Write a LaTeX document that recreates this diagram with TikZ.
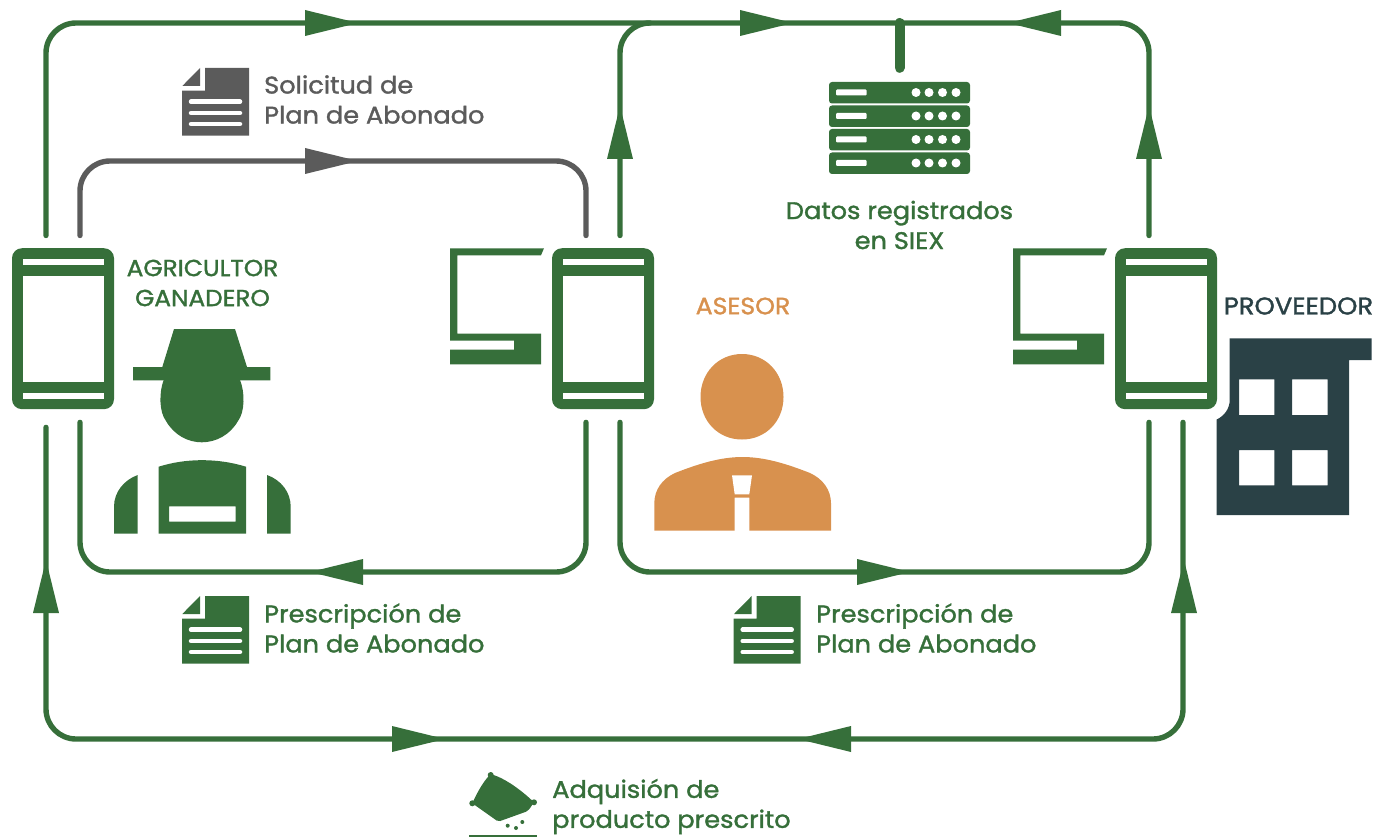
\documentclass[tikz,border=0pt]{standalone}
\usepackage{fontspec}
\setmainfont{Poppins}[FakeBold=1.4,FakeStretch=1.068]
\usetikzlibrary{arrows.meta}
\definecolor{leaf}{HTML}{366F3A}
\definecolor{slate}{HTML}{5B5B5B}
\definecolor{amber}{HTML}{D8914E}
\definecolor{deep}{HTML}{2A4146}
\tikzset{
  flow/.style={line width=5.4pt,line cap=round,rounded corners=30pt,draw=leaf},
  flowgray/.style={flow,draw=slate},
  head/.style={line cap=butt,-{Triangle[length=53pt,width=26pt,line width=0pt]}},
  phone/.style={rectangle,fill=leaf,rounded corners=10pt,minimum width=102pt,minimum height=161pt,inner sep=0pt},
  lab/.style={font=\fontsize{24}{30}\selectfont,inner sep=0pt,text=leaf,align=left,anchor=west},
  caplab/.style={font=\fontsize{23.2}{30}\selectfont,inner sep=0pt,text=leaf,align=center},
  icon/.style={rectangle,minimum size=1pt,inner sep=0pt},
}
\newcommand{\phoneface}[1]{%
  \begin{scope}[shift={(#1.center)}]
    \fill[white] (-40.5,-69.5) rectangle (40.5,-64);
    \fill[white] (-40.5,-53) rectangle (40.5,53);
    \fill[white] (-40.5,64) rectangle (40.5,70);
  \end{scope}}
\newcommand{\laptopshape}[2]{%
  \fill[leaf,shift={(#1,#2)}] (450,248.3)--(544,248.3)--(541,255.3)--(457.3,255.3)--(457.3,333.7)--(541,333.7)--(541,364.3)--(450,364.3)--(450,349.7)--(514,349.7)--(514,340.7)--(450,340.7)--cycle;}
\newcommand{\docshape}[3]{%
  \begin{scope}[shift={(#1,#2)}]
    \fill[#3] (182.3,86)--(200,68)--(200,86)--cycle;
    \fill[#3] (205,68)--(249,68)--(249,135.7)--(182,135.7)--(182,90.7)--(205,90.7)--cycle;
    \draw[white,line width=4.5pt,line cap=round] (191,101.7)--(240,101.7) (191,113)--(240,113) (191,124)--(240,124);
  \end{scope}}
\begin{document}
\begin{tikzpicture}[x=1pt,y=-1pt]
\useasboundingbox (0,0) rectangle (1375,837);
% phones
\node[phone] (phoneA) at (63,328.7) {};
\node[phone] (phoneB) at (603,328.7) {};
\node[phone] (phoneC) at (1166,328.7) {};
\phoneface{phoneA}\phoneface{phoneB}\phoneface{phoneC}
\laptopshape{0}{0}
\laptopshape{563}{0}
% routing points
\coordinate (topjoin) at (650,23);
\coordinate (siex) at (899.5,23);
\coordinate (graytop) at (330,161);
\coordinate (lowL) at (330,572);
\coordinate (lowR) at (880,572);
\coordinate (base) at (615,739);
% connectors
\draw[flow] ([xshift=-17pt,yshift=12.5pt]phoneA.north) |- (topjoin);
\draw[flow] ([xshift=17pt,yshift=12.5pt]phoneB.north) |- (siex) -| ([xshift=-17pt,yshift=12.5pt]phoneC.north);
\draw[flowgray] ([xshift=17pt,yshift=12.5pt]phoneA.north) |- (graytop) -| ([xshift=-17pt,yshift=12.5pt]phoneB.north);
\draw[flow] ([xshift=17pt,yshift=-13pt]phoneA.south) |- (lowL) -| ([xshift=-17pt,yshift=-13pt]phoneB.south);
\draw[flow] ([xshift=17pt,yshift=-13pt]phoneB.south) |- (lowR) -| ([xshift=-17pt,yshift=-13pt]phoneC.south);
\draw[flow] ([xshift=-17pt,yshift=-18pt]phoneA.south) |- (base) -| ([xshift=17pt,yshift=-13pt]phoneC.south);
% arrowheads
\draw[flow,head] (305,23)--(358,23);
\draw[flow,head] (740,23)--(793,23);
\draw[flow,head] (1061,23)--(1008,23);
\draw[flow,head] (620,159)--(620,106);
\draw[flow,head] (1149,159)--(1149,106);
\draw[flowgray,head] (305,161)--(358,161);
\draw[flow,head] (363,572)--(310,572);
\draw[flow,head] (857,572)--(910,572);
\draw[flow,head] (392,739)--(445,739);
\draw[flow,head] (851,739)--(798,739);
\draw[flow,head] (46,613)--(46,560);
\draw[flow,head] (1184,613)--(1184,560);
% server
\node[icon,minimum width=141pt,minimum height=92pt] (server) at (899.5,128) {};
\draw[leaf,line width=10pt,line cap=round] (siex) -- ([yshift=14pt]server.north);
\foreach \yy in {82,105.5,129,152.5}{
  \begin{scope}[shift={(0,\yy)}]
    \fill[leaf,rounded corners=3pt] (829,0) rectangle (970,21.5);
    \fill[white,rounded corners=1pt] (836,7.5) rectangle (866.5,13.5);
    \foreach \xx in {916,929,942.5,956}{\fill[white] (\xx,10.5) circle (4.5);}
  \end{scope}}
% documents
\docshape{0}{0}{slate}
\docshape{0}{528}{leaf}
\docshape{551.7}{528}{leaf}
% farmer
\fill[leaf] (174,329)--(235,329)--(247,367)--(270.3,367)--(270.3,380.3)--(133,380.3)--(133,367)--(162.3,367)--cycle;
\fill[leaf] (163.7,380) .. controls (159,392) and (159,412) .. (166,421) .. controls (174,435) and (188,442.3) .. (201.7,442.3) .. controls (216,442.3) and (230,435) .. (238,421) .. controls (245,412) and (245,392) .. (240,380) -- cycle;
\fill[leaf,even odd rule] (158.7,466.7) .. controls (186,458) and (218,458) .. (246,466.7) -- (246,533.7) -- (158.7,533.7) -- cycle (169,506.3) rectangle (235.7,521.7);
\fill[leaf] (137.7,475) -- (137.7,533.7) -- (114,533.7) -- (114,506.7) .. controls (114,492) and (124,480) .. (137.7,475) -- cycle;
\fill[leaf] (267,475) -- (267,533.7) -- (290.7,533.7) -- (290.7,506.7) .. controls (290.7,492) and (281,480) .. (267,475) -- cycle;
% adviser
\fill[amber] (742,354) .. controls (766,354) and (783.5,373) .. (783.5,397) .. controls (783.5,421) and (766,439.5) .. (742,439.5) .. controls (718,439.5) and (700.5,421) .. (700.5,397) .. controls (700.5,373) and (718,354) .. (742,354) -- cycle;
\fill[amber] (654.3,530.7) -- (654.3,503.3) .. controls (654.3,490) and (662,479) .. (675,473) .. controls (698,464) and (720,457) .. (742.5,457) .. controls (765,457) and (787,464) .. (810,473) .. controls (823,479) and (831,490) .. (831,503.3) -- (831,530.7) -- (749.3,530.7) -- (749.3,497.7) -- (734.7,497.7) -- (734.7,530.7) -- cycle;
\fill[white] (732,475.3)--(752,475.3)--(749.3,494.3)--(734.7,494.3)--cycle;
% building
\fill[deep,even odd rule] (1229.7,338.3)--(1371.7,338.3)--(1371.7,360)--(1349,360)--(1349,515)--(1216.7,515)--(1216.7,419.5) .. controls (1224,416) and (1229.7,409) .. (1229.7,400) -- cycle
 (1239,379.3) rectangle (1274.3,415) (1292,379.3) rectangle (1327.7,415)
 (1239,450) rectangle (1274.3,485.3) (1292,450) rectangle (1327.7,485.3);
% bag
\fill[leaf,rounded corners=2pt] (490.7,774) .. controls (506,779) and (521,790) .. (534,802.3) -- (528,811) -- (498.3,821.7) -- (472.3,803.3) .. controls (477,793) and (483,782) .. (490.7,774) -- cycle;
\fill[leaf] (490.7,775) circle (3) (534,802.3) circle (3) (472.3,803.3) circle (3);
\fill[leaf] (507.7,825.7) circle (2) (516,828) circle (2) (522.3,822) circle (2);
\draw[leaf,line width=2pt] (469,835.7) -- (537,835.7);
% labels
\node[lab,text=slate] (l1) at (264,99.5) {Solicitud de\\Plan de Abonado};
\node[lab] (l2) at (264,628) {Prescripción de\\Plan de Abonado};
\node[lab] (l3) at (816,628) {Prescripción de\\Plan de Abonado};
\node[lab] (l4) at (552,806.5) {Adquisión de\\producto prescrito};
\node[lab,align=center,anchor=center] (l5) at (899.5,225) {Datos registrados\\en SIEX};
\node[caplab] (l6) at (202.5,283) {AGRICULTOR\\GANADERO};
\node[caplab,text=amber,font=\fontsize{23.6}{30}\selectfont] (l7) at (743,306) {ASESOR};
\node[caplab,text=deep,font=\fontsize{24.2}{30}\selectfont] (l8) at (1298.5,306) {PROVEEDOR};
\end{tikzpicture}
\end{document}
